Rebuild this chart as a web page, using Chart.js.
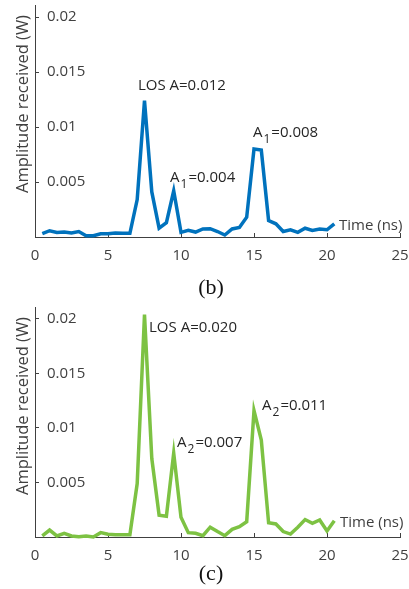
<!DOCTYPE html>
<html><head><meta charset="utf-8">
<script src="https://cdn.jsdelivr.net/npm/chart.js@4/dist/chart.umd.min.js"></script>
<style>
html,body{margin:0;padding:0;background:#fff;width:409px;height:589px;overflow:hidden}
canvas{position:absolute;left:0}
#c1{top:0}
#c2{top:300px}
</style></head>
<body>
<canvas id="c1" width="409" height="300"></canvas>
<canvas id="c2" width="409" height="289"></canvas>
<script>
// ---- data ----
const timeNs = [0.5,1,1.5,2,2.5,3,3.5,4,4.5,5,5.5,6,6.5,7,7.5,8,8.5,9,9.5,10,
  10.5,11,11.5,12,12.5,13,13.5,14,14.5,15,15.5,16,16.5,17,17.5,18,18.5,19,19.5,20,20.5];
const ampB = [0.0003,0.00057,0.00042,0.00045,0.00036,0.0005,0.00012,0.00012,0.0003,0.0003,
  0.00036,0.00033,0.00033,0.0034,0.0124,0.0041,0.0008,0.0013,0.0042,0.00042,
  0.0006,0.00045,0.00073,0.00076,0.0005,0.00018,0.00073,0.00087,0.0018,0.0080,
  0.0079,0.0015,0.0012,0.0005,0.00066,0.00042,0.0008,0.0006,0.00073,0.00066,0.0012];
const ampC = [0.0001,0.00064,0.0001,0.00034,0.0001,0.00003,0.0001,0.0,0.0004,0.00025,
  0.0002,0.0002,0.0002,0.0049,0.0204,0.0072,0.0020,0.0019,0.0077,0.0018,
  0.0004,0.00034,0.00012,0.0009,0.0005,0.00012,0.0007,0.00094,0.0014,0.0116,
  0.0089,0.0013,0.0012,0.0005,0.00027,0.0009,0.0016,0.00125,0.00156,0.00055,0.0015];
const xTicks = [0,5,10,15,20,25];
const yTicks = [0.005,0.01,0.015,0.02];
const yTitle = 'Amplitude received (W)';
const xTitle = 'Time (ns)';
const notesB = [
  {x:7.05, y:0.01337, main:'LOS A=0.012'},
  {x:9.25, y:0.0050, main:'A', sub:'1', rest:'=0.004'},
  {x:14.93, y:0.0091, main:'A', sub:'1', rest:'=0.008'}
];
const notesC = [
  {x:7.81, y:0.01881, main:'LOS A=0.020'},
  {x:9.73, y:0.00826, main:'A', sub:'2', rest:'=0.007'},
  {x:15.55, y:0.01165, main:'A', sub:'2', rest:'=0.011'}
];

const FONT = '"Open Sans", "DejaVu Sans", sans-serif';
const TICK_COLOR = '#404040';
const TEXT_COLOR = '#262626';

const overlay = {
  id: 'overlay',
  afterDatasetsDraw(chart, args, o) {
    const {ctx, scales: {x, y}} = chart;
    ctx.save();
    // y title
    ctx.save();
    ctx.translate(o.titleX, o.titleY);
    ctx.rotate(-Math.PI / 2);
    ctx.font = '16.5px ' + FONT;
    ctx.fillStyle = TICK_COLOR;
    ctx.textAlign = 'center';
    ctx.textBaseline = 'alphabetic';
    ctx.fillText(yTitle, 0, 0);
    ctx.restore();
    // x title at end of line
    ctx.font = '15px ' + FONT;
    ctx.fillStyle = TICK_COLOR;
    ctx.textAlign = 'left';
    ctx.textBaseline = 'alphabetic';
    ctx.fillText(xTitle, x.getPixelForValue(o.xTitlePos[0]), y.getPixelForValue(o.xTitlePos[1]));
    // annotations
    ctx.fillStyle = TEXT_COLOR;
    for (const n of o.notes) {
      let px = x.getPixelForValue(n.x);
      const py = y.getPixelForValue(n.y);
      ctx.font = '15px ' + FONT;
      ctx.fillText(n.main, px, py);
      px += ctx.measureText(n.main).width;
      if (n.sub) {
        ctx.font = '12px ' + FONT;
        ctx.fillText(n.sub, px + 1, py + 6);
        px += ctx.measureText(n.sub).width + 2;
        ctx.font = '15px ' + FONT;
        ctx.fillText(n.rest, px, py);
      }
    }
    // panel label
    ctx.font = '22px "Liberation Serif", "Times New Roman", serif';
    ctx.fillStyle = '#111';
    ctx.textAlign = 'center';
    ctx.fillText(o.panel, o.panelX, o.panelY);
    ctx.restore();
  }
};

function makeChart(id, values, color, notes, pad, panel, panelY, titleY, xTitlePos) {
  const axisGrid = {drawOnChartArea: false, drawTicks: true, tickLength: -4, color: TICK_COLOR, lineWidth: 1};
  const axisBorder = {display: true, color: TICK_COLOR, width: 1};
  return new Chart(document.getElementById(id), {
    type: 'line',
    data: {
      datasets: [{
        data: timeNs.map((t, i) => ({x: t, y: values[i]})),
        borderColor: color,
        borderWidth: 3.5,
        pointRadius: 0,
        fill: false,
        tension: 0,
        clip: false
      }]
    },
    options: {
      responsive: false,
      animation: false,
      layout: {padding: pad},
      plugins: {
        legend: {display: false},
        tooltip: {enabled: false},
        overlay: {notes, panel, panelX: 211, panelY, titleX: 28, titleY, xTitlePos}
      },
      scales: {
        x: {
          type: 'linear', min: 0, max: 25,
          afterBuildTicks: s => { s.ticks = xTicks.map(v => ({value: v})); },
          afterFit: s => { s.height = 30; s.paddingLeft = 0; s.paddingRight = 0; },
          grid: axisGrid,
          border: axisBorder,
          ticks: {padding: 14, maxRotation: 0, autoSkip: false, color: TICK_COLOR,
                  font: {family: FONT, size: 15}}
        },
        y: {
          type: 'linear', min: 0, max: 0.0211,
          afterBuildTicks: s => { s.ticks = yTicks.map(v => ({value: v})); },
          afterFit: s => { s.width = 35; s.paddingTop = 0; s.paddingBottom = 0; },
          grid: axisGrid,
          border: axisBorder,
          ticks: {mirror: true, padding: 12, color: TICK_COLOR,
                  font: {family: FONT, size: 15}, callback: v => String(v)}
        }
      }
    },
    plugins: [overlay]
  });
}

function draw() {
  makeChart('c1', ampB, '#0072BD', notesB, {left: 0, right: 9, top: 5, bottom: 33}, '(b)', 294, 104, [20.82, 0.00064]);
  makeChart('c2', ampC, '#7DC243', notesC, {left: 0, right: 9, top: 7, bottom: 22}, '(c)', 280, 106, [20.89, 0.00092]);
}
if (document.fonts && document.fonts.load) {
  Promise.all([document.fonts.load('15px "Open Sans"'), document.fonts.load('22px "Liberation Serif"')])
    .then(draw, draw);
} else { draw(); }
</script>
</body></html>
